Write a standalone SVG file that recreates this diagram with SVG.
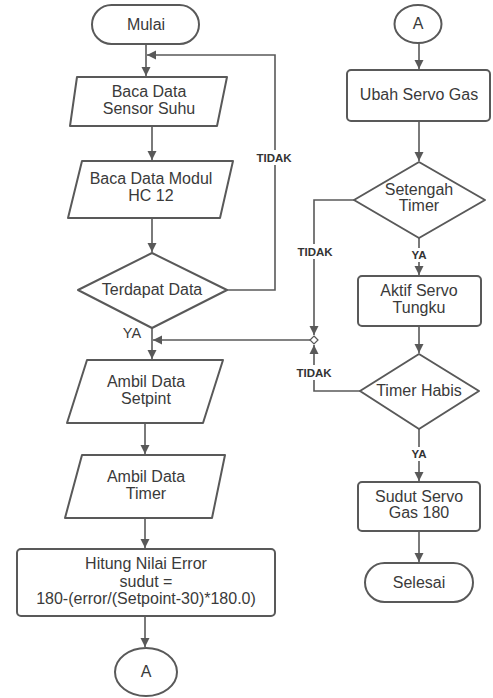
<svg xmlns="http://www.w3.org/2000/svg" width="493" height="698" viewBox="0 0 493 698">
<style>
.s{fill:#fff;stroke:#595959;stroke-width:2;stroke-linejoin:round}
.c{fill:none;stroke:#595959;stroke-width:1.6}
.t{font-family:"Liberation Sans",Arial,sans-serif;font-size:16px;fill:#3a3a3a;text-anchor:middle}
.l{font-family:"Liberation Sans",Arial,sans-serif;font-size:11.5px;font-weight:bold;fill:#333;text-anchor:middle}
.bg{fill:#fff;stroke:none}
</style>
<defs>
<marker id="ah" markerUnits="userSpaceOnUse" markerWidth="10" markerHeight="10" refX="9" refY="5" orient="auto">
<path d="M0,0.5 L9,5 L0,9.5 Z" fill="#595959"/>
</marker>
</defs>
<rect width="493" height="698" fill="#fff"/>
<g id="connectors">
<path class="c" d="M146,44 V76" marker-end="url(#ah)"/>
<path class="c" d="M152,126 V160" marker-end="url(#ah)"/>
<path class="c" d="M152,218 V252" marker-end="url(#ah)"/>
<path class="c" d="M227,290 H275 V55 H147" marker-end="url(#ah)"/>
<path class="c" d="M152,328 V359" marker-end="url(#ah)"/>
<path class="c" d="M145,423 V454" marker-end="url(#ah)"/>
<path class="c" d="M145,518 V548" marker-end="url(#ah)"/>
<path class="c" d="M145,616 V647" marker-end="url(#ah)"/>
<path class="c" d="M419,43 V69" marker-end="url(#ah)"/>
<path class="c" d="M419,121 V161" marker-end="url(#ah)"/>
<path class="c" d="M354,200 H314 V335" marker-end="url(#ah)"/>
<path class="c" d="M419,238 V275" marker-end="url(#ah)"/>
<path class="c" d="M419,326 V353" marker-end="url(#ah)"/>
<path class="c" d="M360,391 H314 V345" marker-end="url(#ah)"/>
<path class="c" d="M310,340 H153" marker-end="url(#ah)"/>
<path class="c" d="M419,429 V481" marker-end="url(#ah)"/>
<path class="c" d="M419,531 V562" marker-end="url(#ah)"/>
<path d="M314,336 L318,340 L314,344 L310,340 Z" fill="#fff" stroke="#595959" stroke-width="1.2"/>
<rect class="bg" x="253" y="150" width="42" height="15"/>
<text class="l" x="274" y="162">TIDAK</text>
<rect class="bg" x="294" y="244" width="42" height="15"/>
<text class="l" x="315" y="256">TIDAK</text>
<rect class="bg" x="293" y="365" width="42" height="15"/>
<text class="l" x="314" y="377">TIDAK</text>
<rect class="bg" x="409" y="248" width="20" height="14"/>
<text class="l" x="419" y="259">YA</text>
<rect class="bg" x="409" y="447" width="20" height="14"/>
<text class="l" x="419" y="458">YA</text>
<text class="t" x="132" y="338" style="font-size:14.5px">YA</text>
</g>
<g id="mulai">
<rect class="s" x="92" y="5" width="107" height="39" rx="19.5"/>
<text class="t" x="146" y="30">Mulai</text>
</g>
<g id="baca-sensor">
<polygon class="s" points="77,77 227,77 217,126 70,126"/>
<text class="t" x="149" y="97">Baca Data</text>
<text class="t" x="149" y="114">Sensor Suhu</text>
</g>
<g id="baca-modul">
<polygon class="s" points="82,161 233,161 220,218 68,218"/>
<text class="t" x="151" y="184">Baca Data Modul</text>
<text class="t" x="151" y="201">HC 12</text>
</g>
<g id="terdapat-data">
<polygon class="s" points="152,253 227,290 152,328 78,290"/>
<text class="t" x="152" y="295">Terdapat Data</text>
</g>
<g id="ambil-setpoint">
<polygon class="s" points="87,360 223,360 203,423 67,423"/>
<text class="t" x="146" y="387">Ambil Data</text>
<text class="t" x="146" y="404">Setpint</text>
</g>
<g id="ambil-timer">
<polygon class="s" points="82,455 225,455 212,518 65,518"/>
<text class="t" x="146" y="482">Ambil Data</text>
<text class="t" x="146" y="499">Timer</text>
</g>
<g id="hitung">
<rect class="s" x="17" y="549" width="258" height="67" rx="4"/>
<text class="t" x="146" y="569">Hitung Nilai Error</text>
<text class="t" x="146" y="587">sudut =</text>
<text class="t" x="146" y="604">180-(error/(Setpoint-30)*180.0)</text>
</g>
<g id="a-out">
<ellipse class="s" cx="146" cy="672" rx="31" ry="24"/>
<text class="t" x="146" y="677">A</text>
</g>
<g id="a-in">
<ellipse class="s" cx="418" cy="24" rx="23.5" ry="19"/>
<text class="t" x="418" y="29">A</text>
</g>
<g id="ubah-servo">
<rect class="s" x="347" y="70" width="143" height="51" rx="4"/>
<text class="t" x="419" y="100">Ubah Servo Gas</text>
</g>
<g id="setengah-timer">
<polygon class="s" points="419,162 485,200 419,238 354,200"/>
<text class="t" x="419" y="195">Setengah</text>
<text class="t" x="419" y="211">Timer</text>
</g>
<g id="aktif-servo">
<rect class="s" x="358" y="276" width="123" height="50" rx="4"/>
<text class="t" x="419" y="296">Aktif Servo</text>
<text class="t" x="419" y="313">Tungku</text>
</g>
<g id="timer-habis">
<polygon class="s" points="419,354 479,391 419,429 360,391"/>
<text class="t" x="419" y="396">Timer Habis</text>
</g>
<g id="sudut-servo">
<rect class="s" x="358" y="482" width="122" height="49" rx="4"/>
<text class="t" x="419" y="502">Sudut Servo</text>
<text class="t" x="419" y="518">Gas 180</text>
</g>
<g id="selesai">
<rect class="s" x="365" y="563" width="108" height="39" rx="19.5"/>
<text class="t" x="419" y="588">Selesai</text>
</g>
</svg>
